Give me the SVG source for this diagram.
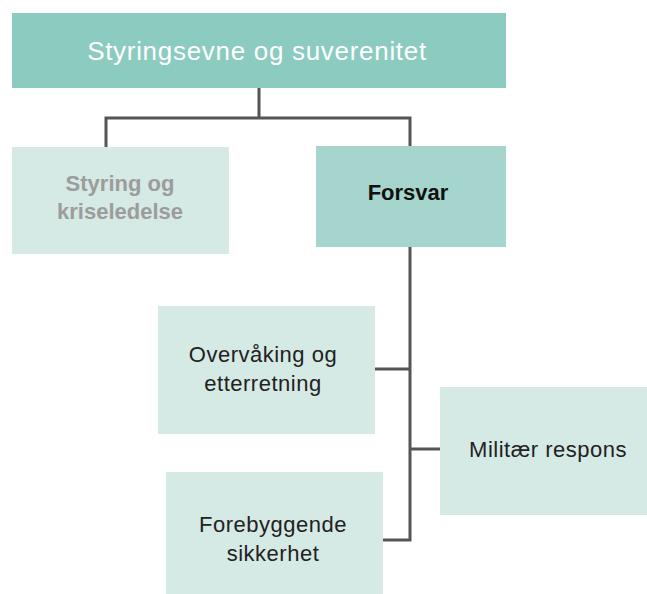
<svg xmlns="http://www.w3.org/2000/svg" width="647" height="594" viewBox="0 0 647 594">
<style>
text{font-family:"Liberation Sans",Arial,sans-serif;text-anchor:middle}
.t{font-size:26px;fill:#fff;letter-spacing:0.7px}
.b{font-size:22px;font-weight:bold}
.n{font-size:22px;fill:#222;letter-spacing:0.5px}
.light{fill:#d5e9e5}
.c{fill:none;stroke:#555;stroke-width:3}
</style>
<rect width="647" height="594" fill="#fff"/>
<g id="connectors">
<path class="c" d="M259 88V118M106 147V118H410V146"/>
<path class="c" d="M410 247V540H383M375 369H410M410 449H440"/>
</g>
<g id="top"><rect x="12" y="13" width="494" height="75" fill="#8ccbbf"/><text class="t" x="257" y="60">Styringsevne og suverenitet</text></g>
<g id="styring"><rect class="light" x="12" y="147" width="217" height="107"/><text class="b" x="120" y="191" fill="#9c9c9c">Styring og</text><text class="b" x="120" y="219" fill="#9c9c9c">kriseledelse</text></g>
<g id="forsvar"><rect x="316" y="146" width="190" height="101" fill="#a5d5cc"/><text class="b" x="408" y="200" fill="#111">Forsvar</text></g>
<g id="overvaking"><rect class="light" x="158" y="306" width="217" height="128"/><text class="n" x="263" y="362">Overvåking og</text><text class="n" x="263" y="391">etterretning</text></g>
<g id="militaer"><rect class="light" x="440" y="387" width="207" height="128"/><text class="n" x="548" y="457">Militær respons</text></g>
<g id="forebyggende"><rect class="light" x="166" y="472" width="217" height="122"/><text class="n" x="273" y="532">Forebyggende</text><text class="n" x="273" y="561">sikkerhet</text></g>
</svg>
